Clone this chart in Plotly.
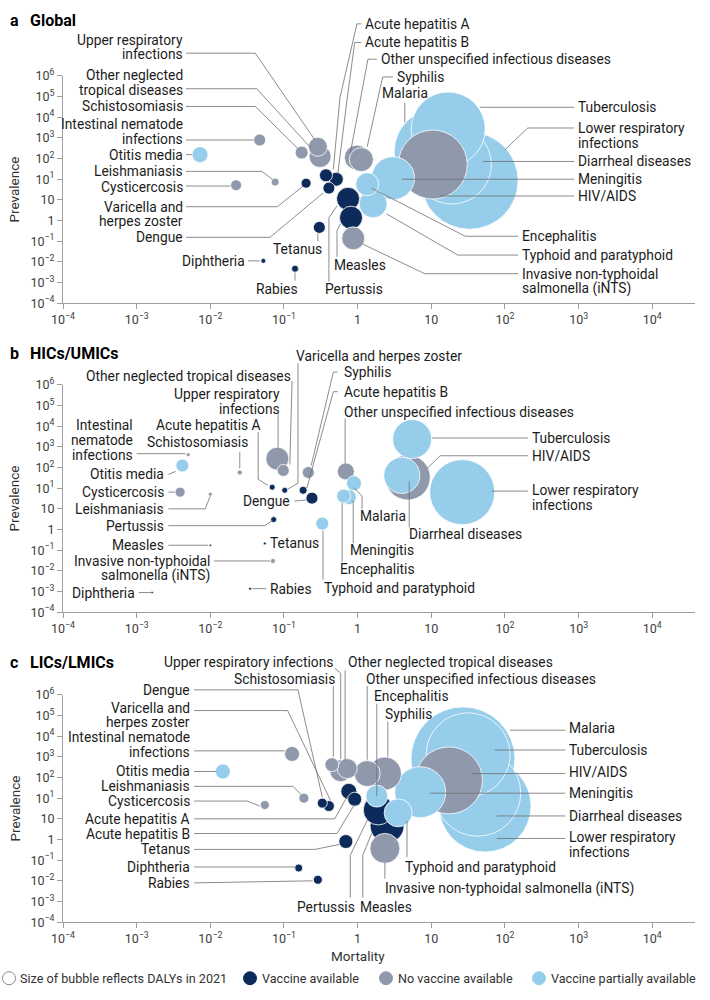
import plotly.graph_objects as go

# ---------------- data ----------------
diseases = [
    "Intestinal nematode infections", "Otitis media", "Cysticercosis", "Leishmaniasis",
    "Varicella and herpes zoster", "Dengue", "Schistosomiasis", "Upper respiratory infections",
    "Other neglected tropical diseases", "Acute hepatitis A", "Acute hepatitis B",
    "Other unspecified infectious diseases", "Syphilis", "Pertussis", "Measles", "Tetanus",
    "Diphtheria", "Rabies", "Invasive non-typhoidal salmonella (iNTS)", "Encephalitis",
    "Typhoid and paratyphoid", "Meningitis", "HIV/AIDS", "Malaria", "Tuberculosis",
    "Diarrheal diseases", "Lower respiratory infections",
]
vaccine_status = [
    "none", "partial", "none", "none", "available", "available", "none", "none",
    "none", "available", "available", "none", "none", "available", "available", "available",
    "available", "available", "none", "partial", "partial", "partial", "none", "partial",
    "partial", "partial", "partial",
]

# log10 of mortality, log10 position on the prevalence axis, DALYs (millions)
global_log_mortality = [-1.33, -2.14, -1.65, -1.12, -0.70, -0.39, -0.76, -0.54, -0.51, -0.43, -0.29,
                        -0.01, 0.05, -0.13, -0.09, -0.52, -1.28, -0.85, -0.06, 0.13, 0.21, 0.48,
                        1.02, 1.08, 1.23, 1.28, 1.52]
global_log_prevalence = [2.90, 2.19, 0.71, 0.86, 0.81, 0.57, 2.29, 2.57, 2.10, 1.19, 1.00,
                         2.05, 1.95, 0.05, -0.86, -1.33, -2.95, -3.33, -1.86, 0.76, -0.19, 1.05,
                         1.71, 2.33, 3.43, 1.71, 0.93]
global_dalys = [1.44, 2.56, 1.21, 0.64, 1.00, 1.44, 1.69, 3.61, 4.84, 1.69, 1.96,
                6.25, 5.76, 5.29, 5.29, 1.44, 0.25, 0.49, 5.29, 5.29, 7.84, 18.5,
                47.6, 74.0, 54.8, 62.4, 94.1]

hic_log_mortality = [-2.30, -2.38, -2.41, -2.00, -0.99, -0.62, -1.60, -1.09, -1.01, -1.16, -0.74,
                     -0.16, -0.67, -1.14, -2.00, -1.26, -2.79, -1.46, -1.15, -0.19, -0.48, -0.12,
                     0.68, -0.05, 0.74, 0.60, 1.42]
hic_log_prevalence = [2.62, 2.10, 0.81, 0.71, 0.90, 0.52, 1.76, 2.43, 1.86, 1.05, 0.90,
                      1.81, 1.76, -0.52, -1.76, -1.67, -4.05, -3.86, -2.52, 0.62, -0.71, 0.57,
                      1.52, 1.24, 3.38, 1.62, 0.81]
hic_dalys = [0.16, 1.69, 1.00, 0.16, 0.36, 1.44, 0.25, 5.29, 1.44, 0.36, 0.64,
             2.89, 1.44, 0.36, 0.06, 0.09, 0.01, 0.09, 0.25, 1.96, 1.69, 2.25,
             20.3, 2.25, 15.2, 13.0, 42.3]

lic_log_mortality = [-0.89, -1.83, -1.26, -0.73, -0.39, -0.48, -0.35, -0.23, -0.14, -0.12, -0.04,
                     0.13, 0.37, 0.28, 0.40, -0.16, -0.80, -0.54, 0.37, 0.26, 0.55, 0.85,
                     1.24, 1.43, 1.50, 1.63, 1.73]
lic_log_prevalence = [3.14, 2.29, 0.67, 1.00, 0.62, 0.76, 2.62, 2.33, 2.43, 1.33, 0.95,
                      2.19, 2.19, 0.43, -0.33, -1.10, -2.38, -2.95, -1.43, 1.10, 0.29, 1.29,
                      1.86, 2.90, 3.10, 1.24, 0.62]
lic_dalys = [2.25, 2.25, 0.81, 1.00, 1.21, 1.00, 1.96, 4.84, 4.00, 2.56, 1.96,
             6.76, 10.9, 9.00, 11.6, 1.96, 0.64, 0.81, 9.00, 4.84, 7.84, 26.0,
             44.9, 108.0, 70.6, 74.0, 84.6]

x_tickvals = [1e-4, 1e-3, 1e-2, 1e-1, 1, 10, 1e2, 1e3, 1e4]
x_ticktext = ["10<sup>−4</sup>", "10<sup>−3</sup>", "10<sup>−2</sup>", "10<sup>−1</sup>", "1", "10",
              "10<sup>2</sup>", "10<sup>3</sup>", "10<sup>4</sup>"]
y_tickvals = [1e6, 1e5, 1e4, 1e3, 1e2, 1e1, 1, 1e-1, 1e-2, 1e-3, 1e-4, 1e-5]
y_ticktext = ["10<sup>6</sup>", "10<sup>5</sup>", "10<sup>4</sup>", "10<sup>3</sup>", "10<sup>2</sup>",
              "10<sup>1</sup>", "10", "1", "10<sup>−1</sup>", "10<sup>−2</sup>", "10<sup>−3</sup>",
              "10<sup>−4</sup>"]

panel_letters = ["a", "b", "c"]
panel_titles = ["Global", "HICs/UMICs", "LICs/LMICs"]

# label text, x (log mortality), y (log prevalence axis, first line), anchor, leader points
global_labels = [
    ("Upper respiratory|infections", -2.34, 7.76, "right", [(-2.33, 7.10), (-1.39, 7.10), (-0.58, 2.90)]),
    ("Other neglected|tropical diseases", -2.34, 6.05, "right", [(-2.33, 5.38), (-1.37, 5.38), (-0.65, 2.57)]),
    ("Schistosomiasis", -2.34, 4.52, "right", [(-2.33, 4.52), (-1.39, 4.52), (-0.81, 2.48)]),
    ("Intestinal nematode|infections", -2.34, 3.67, "right", [(-2.33, 2.90), (-1.41, 2.90)]),
    ("Otitis media", -2.34, 2.19, "right", [(-2.33, 2.19), (-2.25, 2.19)]),
    ("Leishmaniasis", -2.34, 1.38, "right", [(-2.33, 1.38), (-1.30, 1.38), (-1.16, 1.00)]),
    ("Cysticercosis", -2.34, 0.62, "right", [(-2.33, 0.67), (-1.73, 0.67)]),
    ("Varicella and|herpes zoster", -2.34, -0.33, "right", [(-2.33, -0.33), (-1.09, -0.33), (-0.74, 0.67)]),
    ("Dengue", -2.34, -1.81, "right", [(-2.33, -1.81), (-1.19, -1.81), (-0.47, 0.33)]),
    ("Diphtheria", -1.50, -2.95, "right", [(-1.49, -2.95), (-1.33, -2.95)]),
    ("Rabies", -1.09, -4.29, "center", [(-0.85, -3.52), (-0.85, -3.90)]),
    ("Tetanus", -0.81, -2.38, "center", [(-0.54, -1.62), (-0.54, -2.00)]),
    ("Pertussis", -0.05, -4.29, "center", [(-0.39, -3.95), (-0.39, -0.86), (-0.28, -0.29)]),
    ("Measles", 0.03, -3.14, "center", [(-0.28, -2.76), (-0.28, -1.48), (-0.23, -1.14)]),
    ("Acute hepatitis A", 0.07, 8.52, "left", [(0.05, 8.52), (-0.01, 8.52), (-0.24, 4.95), (-0.33, 1.48)]),
    ("Acute hepatitis B", 0.07, 7.62, "left", [(0.05, 7.62), (-0.04, 7.62), (-0.14, 4.95), (-0.27, 1.24)]),
    ("Other unspecified infectious diseases", 0.29, 6.81, "left", [(0.26, 6.81), (0.14, 6.81), (-0.10, 2.24)]),
    ("Syphilis", 0.51, 5.95, "left", [(0.48, 5.95), (0.34, 5.95), (0.13, 2.57)]),
    ("Malaria", 0.64, 5.19, "center", [(0.64, 4.71), (0.64, 3.76)]),
    ("Tuberculosis", 2.96, 4.48, "left", [(2.94, 4.48), (1.66, 4.48)]),
    ("Lower respiratory|infections", 2.96, 3.48, "left", [(2.94, 3.48), (2.31, 3.48), (2.00, 2.43)]),
    ("Diarrheal diseases", 2.96, 1.86, "left", [(2.94, 1.86), (1.70, 1.86)]),
    ("Meningitis", 2.96, 1.00, "left", [(2.94, 1.00), (0.60, 1.00)]),
    ("HIV/AIDS", 2.96, 0.19, "left", [(2.94, 0.19), (1.12, 0.19)]),
    ("Encephalitis", 2.20, -1.76, "left", [(2.18, -1.76), (1.46, -1.76), (0.19, 0.57)]),
    ("Typhoid and paratyphoid", 2.20, -2.67, "left", [(2.18, -2.67), (1.36, -2.67), (0.39, -0.67)]),
    ("Invasive non-typhoidal|salmonella (iNTS)", 2.20, -3.57, "left", [(2.18, -3.57), (0.91, -3.57), (0.07, -2.14)]),
]

hic_labels = [
    ("Other neglected tropical diseases", -0.88, 6.43, "right", [(-0.89, 6.19), (-0.92, 2.14)]),
    ("Upper respiratory|infections", -1.03, 5.57, "right", [(-1.08, 4.62), (-1.08, 2.95)]),
    ("Intestinal|nematode|infections", -3.02, 4.05, "right", [(-3.00, 2.67), (-2.34, 2.67)]),
    ("Acute hepatitis A", -1.28, 4.05, "right", [(-1.35, 3.71), (-1.35, 1.43), (-1.22, 1.14)]),
    ("Schistosomiasis", -1.46, 3.24, "right", [(-1.60, 2.76), (-1.60, 1.95)]),
    ("Otitis media", -2.60, 1.67, "right", [(-2.57, 1.67), (-2.47, 1.81)]),
    ("Cysticercosis", -2.60, 0.81, "right", [(-2.57, 0.81), (-2.48, 0.81)]),
    ("Leishmaniasis", -2.60, 0.00, "right", [(-2.57, 0.00), (-2.07, 0.00), (-2.00, 0.62)]),
    ("Pertussis", -2.60, -0.81, "right", [(-2.57, -0.81), (-1.26, -0.81), (-1.16, -0.57)]),
    ("Measles", -2.60, -1.76, "right", [(-2.57, -1.76), (-2.03, -1.76)]),
    ("Invasive non-typhoidal|salmonella (iNTS)", -1.98, -2.52, "right", [(-1.95, -2.52), (-1.19, -2.52)]),
    ("Diphtheria", -3.00, -4.05, "right", [(-2.97, -4.05), (-2.79, -4.05)]),
    ("Rabies", -1.22, -3.86, "left", [(-1.24, -3.86), (-1.43, -3.86)]),
    ("Tetanus", -1.22, -1.67, "left", []),
    ("Dengue", -0.89, 0.38, "right", [(-0.86, 0.38), (-0.70, 0.43)]),
    ("Varicella and herpes zoster", -0.86, 7.38, "left", [(-0.81, 7.05), (-0.81, 1.24), (-0.95, 0.95)]),
    ("Syphilis", -0.21, 6.62, "left", [(-0.27, 6.62), (-0.33, 6.62), (-0.63, 2.10)]),
    ("Acute hepatitis B", -0.21, 5.67, "left", [(-0.27, 5.67), (-0.33, 5.67), (-0.69, 1.00)]),
    ("Other unspecified infectious diseases", -0.21, 4.71, "left", [(-0.17, 4.38), (-0.17, 2.19)]),
    ("Tuberculosis", 2.34, 3.43, "left", [(2.31, 3.43), (1.01, 3.43)]),
    ("HIV/AIDS", 2.34, 2.57, "left", [(2.31, 2.57), (1.12, 2.57), (0.94, 1.95)]),
    ("Lower respiratory|infections", 2.34, 0.90, "left", [(2.31, 0.86), (1.82, 0.86)]),
    ("Diarrheal diseases", 0.67, -1.24, "left", [(0.70, -0.90), (0.70, 1.33)]),
    ("Malaria", 0.00, -0.33, "left", [(0.06, 0.00), (0.06, 0.62), (-0.04, 1.00)]),
    ("Meningitis", -0.13, -2.00, "left", [(-0.06, -1.67), (-0.06, 0.38)]),
    ("Encephalitis", -0.27, -2.90, "left", [(-0.21, -2.57), (-0.21, 0.29)]),
    ("Typhoid and paratyphoid", -0.48, -3.81, "left", [(-0.47, -3.43), (-0.47, -1.05)]),
]

lic_labels = [
    ("Upper respiratory infections", -0.31, 7.57, "right", [(-0.31, 7.29), (-0.23, 7.05), (-0.23, 2.90)]),
    ("Other neglected tropical diseases", -0.16, 7.57, "left", [(-0.17, 7.19), (-0.17, 2.81)]),
    ("Schistosomiasis", -0.28, 6.76, "right", [(-0.33, 6.43), (-0.33, 3.00)]),
    ("Dengue", -2.25, 6.24, "right", [(-2.22, 6.24), (-0.81, 6.24), (-0.48, 1.05)]),
    ("Varicella and|herpes zoster", -2.25, 5.38, "right", [(-2.22, 5.24), (-0.95, 5.24), (-0.37, 0.90)]),
    ("Intestinal nematode|infections", -2.25, 3.95, "right", [(-2.22, 3.29), (-0.99, 3.29)]),
    ("Otitis media", -2.25, 2.33, "right", [(-2.22, 2.29), (-1.92, 2.29)]),
    ("Leishmaniasis", -2.25, 1.57, "right", [(-2.22, 1.57), (-0.88, 1.57), (-0.77, 1.19)]),
    ("Cysticercosis", -2.25, 0.86, "right", [(-2.22, 0.86), (-1.50, 0.86), (-1.33, 0.62)]),
    ("Acute hepatitis A", -2.25, 0.00, "right", [(-2.22, 0.00), (-0.31, 0.00), (-0.14, 1.10)]),
    ("Acute hepatitis B", -2.25, -0.71, "right", [(-2.22, -0.71), (-0.28, -0.71), (-0.04, 0.71)]),
    ("Tetanus", -2.25, -1.48, "right", [(-2.22, -1.48), (-0.58, -1.48), (-0.25, -1.24)]),
    ("Diphtheria", -2.25, -2.33, "right", [(-2.22, -2.33), (-0.85, -2.33)]),
    ("Rabies", -2.25, -3.10, "right", [(-2.22, -3.10), (-0.61, -3.00)]),
    ("Pertussis", -0.43, -4.29, "center", [(-0.10, -3.81), (-0.10, -1.76), (0.14, 0.00)]),
    ("Measles", 0.39, -4.29, "center", [(0.07, -3.81), (0.07, -1.76), (0.19, -0.71)]),
    ("Other unspecified infectious diseases", 0.09, 6.76, "left", [(0.13, 6.43), (0.13, 2.86)]),
    ("Encephalitis", 0.19, 5.95, "left", [(0.26, 5.57), (0.26, 1.10)]),
    ("Syphilis", 0.34, 5.05, "left", [(0.41, 4.71), (0.41, 3.00)]),
    ("Malaria", 2.84, 4.38, "left", [(2.82, 4.29), (2.07, 4.29)]),
    ("Tuberculosis", 2.84, 3.33, "left", [(2.82, 3.33), (1.86, 3.33)]),
    ("HIV/AIDS", 2.84, 2.29, "left", [(2.82, 2.19), (1.55, 2.19)]),
    ("Meningitis", 2.84, 1.24, "left", [(2.82, 1.24), (0.98, 1.24)]),
    ("Diarrheal diseases", 2.84, 0.14, "left", [(2.82, 0.14), (1.89, 0.14)]),
    ("Lower respiratory|infections", 2.84, -0.90, "left", [(2.82, -0.95), (1.89, -0.95)]),
    ("Typhoid and paratyphoid", 0.62, -2.33, "left", [(0.67, -1.86), (0.67, -0.10)]),
    ("Invasive non-typhoidal salmonella (iNTS)", 0.34, -3.38, "left", [(0.37, -2.90), (0.37, -2.14)]),
]

# ---------------- style ----------------
FONT = "Roboto, Arial, sans-serif"
COLORS = {"available": "#0c2b5b", "none": "#9098ac", "partial": "#95cdea"}
LEADER = "#6e6e6e"
AXIS_COLOR = "#9e9e9e"
TEXT_COLOR = "#1c1c1c"
LABEL_SIZE = 13.8
X_RANGE = [-4, 4.58]
Y_RANGE = [-5, 6]
DOMAINS = [[0.701, 0.932], [0.387, 0.618], [0.072, 0.303]]
TITLE_Y = [0.988, 0.650, 0.336]
LINE_STEP = 0.015
PLOT_W = 632.0


def to_paper(p, lx, ly):
    fx = (lx - X_RANGE[0]) / (X_RANGE[1] - X_RANGE[0])
    d0, d1 = DOMAINS[p]
    fy = d0 + (ly - Y_RANGE[0]) / (Y_RANGE[1] - Y_RANGE[0]) * (d1 - d0)
    return fx, fy


def px_x(px):
    return (px - 63) / PLOT_W


panels = [
    (global_log_mortality, global_log_prevalence, global_dalys, global_labels),
    (hic_log_mortality, hic_log_prevalence, hic_dalys, hic_labels),
    (lic_log_mortality, lic_log_prevalence, lic_dalys, lic_labels),
]

fig = go.Figure()
annotations = []
shapes = []

for p, (lm, lp, dal, labels) in enumerate(panels):
    sfx = "" if p == 0 else str(p + 1)
    order = sorted(range(len(diseases)), key=lambda j: -dal[j])
    fig.add_trace(go.Scatter(
        x=[10 ** lm[j] for j in order],
        y=[10 ** lp[j] for j in order],
        mode="markers",
        marker=dict(size=[dal[j] for j in order], sizemode="area", sizeref=0.02, sizemin=1.2,
                    color=[COLORS[vaccine_status[j]] for j in order],
                    line=dict(color="white", width=0.8), opacity=1),
        text=[diseases[j] for j in order], hoverinfo="text",
        xaxis="x" + sfx, yaxis="y" + sfx, showlegend=False, cliponaxis=False,
    ))

    for text, lx, ly, anchor, pts in labels:
        fx, fy = to_paper(p, lx, ly)
        for li, line in enumerate(text.split("|")):
            annotations.append(dict(
                x=fx, y=fy - li * LINE_STEP, xref="paper", yref="paper", text=line,
                showarrow=False, xanchor=anchor, yanchor="middle", align=anchor,
                font=dict(family=FONT, size=LABEL_SIZE, color=TEXT_COLOR),
            ))
        if pts:
            coords = [to_paper(p, a, b) for a, b in pts]
            path = "M " + " L ".join(f"{cx:.5f},{cy:.5f}" for cx, cy in coords)
            shapes.append(dict(type="path", path=path, xref="paper", yref="paper",
                               line=dict(color=LEADER, width=0.8), layer="above"))

    common = dict(type="log", showgrid=False, zeroline=False, showline=True,
                  linecolor=AXIS_COLOR, linewidth=1, ticks="outside", ticklen=5,
                  tickcolor=AXIS_COLOR, tickfont=dict(family=FONT, size=12.5, color="#3c3c3c"))
    fig.update_layout(**{
        "xaxis" + sfx: dict(common, range=X_RANGE, domain=[0, 1], tickvals=x_tickvals,
                            ticktext=x_ticktext, anchor="y" + sfx),
        "yaxis" + sfx: dict(common, range=Y_RANGE, domain=DOMAINS[p], tickvals=y_tickvals,
                            ticktext=y_ticktext, anchor="x" + sfx),
    })

    d0, d1 = DOMAINS[p]
    annotations.append(dict(x=px_x(8), y=TITLE_Y[p], xref="paper", yref="paper",
                            text="<b>" + panel_letters[p] + "</b>", showarrow=False,
                            xanchor="left", yanchor="middle",
                            font=dict(family=FONT, size=16, color="black")))
    annotations.append(dict(x=px_x(28), y=TITLE_Y[p], xref="paper", yref="paper",
                            text="<b>" + panel_titles[p] + "</b>", showarrow=False,
                            xanchor="left", yanchor="middle",
                            font=dict(family=FONT, size=16, color="black")))
    annotations.append(dict(x=px_x(14), y=(d0 + d1) / 2, xref="paper", yref="paper",
                            text="Prevalence", textangle=-90, showarrow=False,
                            xanchor="center", yanchor="middle",
                            font=dict(family=FONT, size=13.5, color="#333")))

annotations.append(dict(x=px_x(358), y=0.038, xref="paper", yref="paper", text="Mortality",
                        showarrow=False, xanchor="center", yanchor="middle",
                        font=dict(family=FONT, size=13.5, color="#333")))

legend_items = [
    ("Size of bubble reflects DALYs in 2021", "white", "#8a8a8a", 9, 18),
    ("Vaccine available", COLORS["available"], COLORS["available"], 250, 260),
    ("No vaccine available", COLORS["none"], COLORS["none"], 386, 396),
    ("Vaccine partially available", COLORS["partial"], COLORS["partial"], 539, 549),
]
for label, fill, edge, cpx, tpx in legend_items:
    shapes.append(dict(type="circle", xref="paper", yref="paper", xsizemode="pixel",
                       ysizemode="pixel", xanchor=px_x(cpx), yanchor=0.015,
                       x0=-6.5, x1=6.5, y0=-6.5, y1=6.5, fillcolor=fill,
                       line=dict(color=edge, width=1)))
    annotations.append(dict(x=px_x(tpx), y=0.015, xref="paper", yref="paper", text=label,
                            showarrow=False, xanchor="left", yanchor="middle",
                            font=dict(family=FONT, size=12.6, color="#333")))

fig.update_layout(
    width=710, height=1000,
    margin=dict(l=63, r=15, t=0, b=0),
    paper_bgcolor="white", plot_bgcolor="white",
    font=dict(family=FONT, size=13, color=TEXT_COLOR),
    annotations=annotations, shapes=shapes, showlegend=False,
)

fig.write_html(
    "out.html",
    config={"displayModeBar": False},
    post_script=(
        "document.documentElement.style.margin='0px';"
        "document.body.style.margin='0px';"
        "document.body.style.overflow='hidden';"
        "var gd=document.getElementById('{plot_id}');"
        "gd.style.position='fixed';gd.style.left='0px';gd.style.top='0px';"
    ),
)
